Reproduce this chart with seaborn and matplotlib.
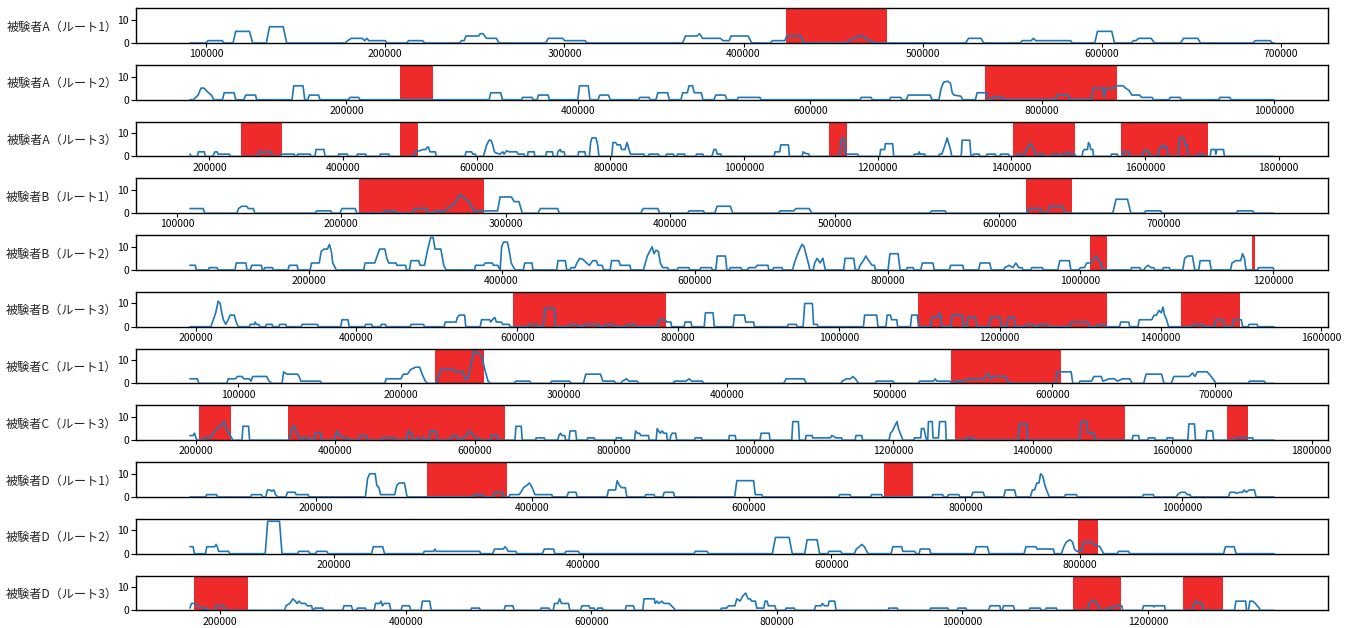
import matplotlib
matplotlib.use("Agg")
import matplotlib.pyplot as plt
import pandas as pd
import seaborn as sns

LABELS = ["被験者A（ルート1）", "被験者A（ルート2）", "被験者A（ルート3）",
          "被験者B（ルート1）", "被験者B（ルート2）", "被験者B（ルート3）",
          "被験者C（ルート1）", "被験者C（ルート3）",
          "被験者D（ルート1）", "被験者D（ルート2）", "被験者D（ルート3）"]

# (time, count) vertices for each recording
A1 = [(91000,0),(100000,0),(101000,1),(109000,1),(110000,0),
      (115000,0),(116500,5),(124200,5),(126000,0),
      (133600,0),(135400,7),(143000,7),(145000,0),
      (177500,0),(179000,1),(181000,2),(187000,2),(188500,1),(189700,2),(190800,1),(200000,1),(201000,0),
      (212000,0),(213000,1),(220800,1),(222000,0),
      (241500,0),(242500,1),(244000,1),(245000,3),(252000,3),(253000,4),(254500,4),(256500,2),(262000,2),(263500,0),
      (289500,0),(291000,2),(299000,2),(300000,1),(311500,1),(312500,0),
      (366000,0),(367500,3),(374000,3),(375500,4),(377000,2),(387000,2),(388500,1),(392000,1),(393000,3),(402500,3),(404500,0),
      (415000,0),(416000,1),(423000,1),(424000,3),(432000,3),(433500,0),
      (457500,0),(458500,1),(462000,2),(464000,3),(466500,3),(468000,2),(470000,1),(471500,1),(472500,0),
      (524000,0),(525500,2),(532500,2),(534000,0),
      (554500,0),(555500,1),(560500,1),(561800,2),(563000,1),(582500,1),(583500,0),
      (596000,0),(597500,5),(605500,5),(607000,0),
      (616500,0),(617500,1),(619000,1),(620500,2),(627500,2),(629300,0),
      (644000,0),(645500,2),(653500,2),(655000,0),
      (684500,0),(685500,1),(694000,1),(695000,0),(696000,0)]

A2 = [(65000,0),(68000,0),(70000,1),(72000,2),(74500,5),(77000,5),(79000,4),(81000,3),(83500,2),(85500,0),
      (93000,0),(94500,3),(103000,3),(104500,0),
      (111500,0),(113000,2),(121500,2),(122500,0),
      (153000,0),(154500,6),(162500,6),(164000,0),
      (166500,0),(168000,2),(176000,2),(177000,0),
      (201500,0),(203000,1),(210500,1),(211500,0),
      (323000,0),(324500,3),(333000,3),(334500,0),
      (351000,0),(352000,1),(360000,1),(361000,0),
      (364500,0),(365500,2),(374000,2),(375000,0),
      (399500,0),(401000,6),(408500,6),(410000,0),
      (417000,0),(418500,2),(426000,2),(427500,0),
      (452000,0),(453000,1),(461000,1),(462000,0),
      (467000,0),(468500,3),(477000,3),(478500,0),
      (488500,0),(490000,3),(494000,3),(495500,6),(498500,6),(500000,3),(506000,3),(507500,0),
      (517000,0),(518500,2),(526500,2),(528000,0),
      (537000,0),(538000,1),(556500,1),(557500,0),
      (643000,0),(644000,1),(652500,1),(653500,0),
      (668500,0),(669500,1),(678000,1),(679000,0),
      (683000,0),(684500,2),(703500,2),(705000,0),
      (711000,0),(713000,5),(715000,7.5),(718500,8),(721000,7),(722500,3),(724000,2),(730000,1.5),(731500,0),
      (742500,0),(744000,3),(752000,3),(753500,0),
      (756500,0),(757500,1),(766000,1),(767000,0),
      (811500,0),(813000,2),(822500,2),(824000,0),
      (842500,0),(844000,5),(852500,5),(853500,1),(855000,5),(862000,5),(863500,6),(870000,6),(872000,5),
      (875000,4),(877500,2),(884000,2),(886000,1),(895000,1),(896000,0),
      (909500,0),(910500,1),(919000,1),(920000,0),
      (952500,0),(953500,1),(962000,1),(963000,0),(1000000,0)]

A3 = [(171000,1),(173000,0),(182000,0),(183500,2),(192500,2),(194000,0),
      (205000,0),(206500,1),(208500,2),(211500,2),(213000,1),(230000,1),(231500,0),
      (272000,0),(273500,2),(280000,2),(281500,1.5),(284000,2),(292500,2),(294000,0),
      (306500,0),(307500,1),(327000,1),(328000,0),
      (331000,0),(332000,1),(351000,1),(352000,0),
      (358000,0),(359500,3),(371500,3),(373000,0),
      (392500,0),(393500,1),(406500,1),(407500,0),
      (420500,0),(421500,1),(434000,1),(435000,0),
      (455000,0),(456000,1),(468500,1),(469500,0),
      (506000,0),(508000,2),(515000,2.5),(520000,3),(524000,3),(526000,4),(528000,4),(530000,2),(538000,2),(539500,0),
      (582500,0),(584000,2),(592500,2),(594000,1),(598000,1),(599000,0),
      (610000,0),(612000,2),(615000,5),(618500,7),(621500,7),(624000,5),(626500,2),(629000,1.5),(635000,1),
      (639000,2),(641000,1),(645000,2.5),(648000,2),(660000,2),(662000,1),(671000,1),(672000,0),
      (676000,0),(677000,2),(686000,2),(687000,0),
      (703500,0),(704500,2),(713500,2),(714500,0),
      (720500,0),(721500,2),(725000,3),(726500,2),(731000,2),(732000,0),
      (751500,0),(752500,2),(762000,2),(763000,0),
      (768500,0),(770500,6),(772500,8),(778500,8),(781000,5),(783000,0),
      (802000,0),(804000,6),(808000,6),(810000,5),(815000,5),(817000,3),(822000,3),(825000,6),(828000,3),(830000,1),(850000,1),(852000,0),
      (857000,0),(858000,1),(872000,1),(873000,0),
      (883000,0),(884000,1),(894500,1),(895500,0),
      (899500,0),(900500,1),(911000,1),(912000,0),
      (928000,0),(929000,1),(938500,1),(939500,0),
      (951500,0),(953000,1),(955000,3),(958000,3),(960000,1),(965500,1),(966500,0),
      (1045000,0),(1046500,2),(1053500,2),(1055000,5),(1066500,5),(1068000,0),
      (1087000,0),(1088500,2),(1090500,1.5),(1097000,1),(1098500,0),
      (1143000,0),(1145000,6),(1147000,8),(1149500,8),(1151500,1),(1170000,1),(1172000,0),
      (1203000,0),(1204500,3),(1210500,3),(1211500,5.5),(1222500,5.5),(1224000,0),
      (1254000,0),(1255000,1),(1261000,1),(1262000,2),(1263500,1),(1270500,1),(1271500,0),
      (1291000,0),(1292500,1),(1296000,1),(1298500,3),(1301000,5),(1304000,8),(1306000,6),(1309000,3),(1311000,0),
      (1325000,0),(1326500,7),(1338000,7),(1339500,0),
      (1342000,0),(1343000,1),(1352000,1),(1353000,0),
      (1362500,0),(1363500,1),(1376000,1),(1377000,0),
      (1383000,0),(1384000,1),(1396000,1),(1397000,0),
      (1408000,0),(1409000,1),(1420000,1),(1423000,3),(1427500,5.5),(1430000,5),(1434000,3),(1436000,1),(1448000,1),(1449000,0),
      (1459500,0),(1460500,1),(1470500,1),(1471500,0),
      (1475000,0),(1476000,1),(1483000,1),(1485000,2),(1487000,1),(1495000,1),(1496000,0),
      (1506000,0),(1507000,2),(1509000,3),(1514000,3),(1515500,6),(1517500,5),(1519000,3),(1522000,3),(1523000,0),
      (1549000,0),(1550000,1),(1558500,1),(1559500,0),
      (1565500,0),(1567000,2),(1576000,2),(1577000,0),
      (1596000,0),(1598000,2),(1601000,3),(1603000,2),(1606500,2),(1608000,0),
      (1619000,0),(1621000,3),(1625000,4),(1627000,5),(1629000,4),(1633000,4),(1634500,0),
      (1649500,0),(1651500,8),(1658000,8),(1660000,5),(1663000,5),(1664500,0),
      (1677500,0),(1678500,1),(1687500,1),(1688500,0),
      (1697500,0),(1699000,3),(1705000,3),(1706000,1),(1707500,3),(1717500,3),(1719000,0),(1793000,0)]

B1 = [(108000,2),(116000,2),(117000,0),
      (136500,0),(137500,2),(139500,3),(142500,3),(143500,2),(146500,2),(147500,0),
      (184000,0),(185000,1),(193500,1),(194500,0),
      (199000,0),(200500,2),(208500,2),(209500,0),
      (225000,0),(226000,1),(233000,1),(234000,0),
      (243000,0),(244500,2),(252000,2),(253000,0),
      (255500,0),(256500,1),(263000,1),(264500,2),(266500,3),(268500,4),(270500,6),(272000,8),(274000,7),(276000,6),
      (277500,5),(279000,3),(280500,1),(295000,1),(296500,7),(303500,7),(305000,5),(308000,5),(310000,0),
      (319500,0),(321000,2),(331500,2),(332500,0),
      (382000,0),(383500,2),(392500,2),(393500,0),
      (410500,0),(411500,1),(420000,1),(421000,0),
      (427000,0),(428500,3),(436500,3),(438000,0),
      (465500,0),(467000,1),(475000,1),(476500,2),(484500,2),(486000,0),
      (557500,0),(559000,1),(567000,1),(568000,0),
      (616500,0),(618000,2),(625000,2),(626500,0),
      (629000,0),(630500,3),(638500,3),(640000,0),
      (669000,0),(671000,6),(678000,6),(680000,0),
      (688000,0),(689000,1),(698000,1),(699000,0),
      (744000,0),(745000,1),(754000,1),(755000,0),(767000,0)]

B2 = [(77000,2),(82500,2),(83500,0),
      (96000,0),(97000,1),(105000,1),(106000,0),
      (123500,0),(125000,3),(135000,3),(136000,0),
      (139500,0),(141000,2),(151000,2),(152000,0),
      (153500,0),(154500,1),(162500,1),(163500,0),
      (178500,0),(180000,2),(188000,2),(189000,0),
      (201500,0),(203000,3),(211000,3),(213000,8),(216000,9),(219500,9),(221500,11),(223500,8),(225000,3),(227500,1),(228500,0),
      (257000,0),(258500,3),(268500,3),(271000,6),(273500,9),(279000,9),(281000,5),(283000,3),(290500,3),(291500,2),(300500,2),(301500,0),
      (304500,0),(306000,4),(314000,4),(315500,2),(320000,2),(323500,9),(326500,14),(329000,14),(331000,9),(337000,9),(340000,2),(342500,0),
      (372000,0),(373000,2),(381500,2),(383000,3),(390500,3),(391500,2),(396000,2),(398500,0),(400000,10),(402000,12),
      (406000,12),(408000,8),(410000,3),(412500,1),(414500,0),
      (422500,0),(424000,3),(431500,3),(432500,0),
      (457000,0),(458500,4),(466000,4),(467500,0),
      (470500,0),(472000,1),(476000,1),(478000,3),(481000,5),(484500,4.5),(488000,3),(491000,2),(494500,4),(498000,4),(500000,2),(504000,2),(506000,0),
      (512500,0),(514000,4),(521500,4),(523000,2),(533000,2),(534000,0),
      (547000,0),(549000,3),(551000,6),(553500,8),(556000,10),(558000,7),(560000,8.5),(562500,8),(564500,3),(567000,1),(572000,1),(573000,0),
      (582000,0),(583000,1),(594000,1),(595000,0),
      (605500,0),(606500,1),(617500,1),(618500,0),
      (622000,0),(623500,6),(632000,6),(633500,0),
      (636000,0),(637000,1),(648000,1),(649000,0),
      (655000,0),(656000,1),(663000,1),(665000,2),(676000,2),(677000,0),
      (681000,0),(682000,1),(690500,1),(691500,0),
      (701500,0),(703500,3),(706000,6),(709000,9),(711500,11),(713500,10),(716000,6),(718500,2),(719500,0),
      (723000,0),(724500,3),(727000,5),(730000,3),(733000,5),(735500,0),
      (754500,0),(756000,5),(765000,5),(766500,0),
      (770000,0),(771500,2),(775000,4),(777500,6),(780500,4),(784000,2),(786500,2),(787500,0),
      (800500,0),(802500,7),(811000,7),(813000,0),
      (819500,0),(820500,1),(826500,1),(827500,0),
      (834500,0),(836000,3),(847000,3),(848500,0),
      (864000,0),(865500,2),(878000,2),(879000,0),
      (894500,0),(896000,3),(906000,3),(907500,0),
      (920500,0),(921500,1),(926000,2),(930000,1),(933000,3),(936000,1),(939500,1),(940500,0),
      (948500,0),(949500,1),(960500,1),(961500,0),
      (976500,0),(978500,4),(988500,4),(990000,0),
      (998000,0),(1000000,1),(1004000,1),(1006500,3),(1011000,3),(1013000,4.5),(1016000,6),(1019000,4),(1021000,3),(1023000,0),
      (1052000,0),(1053000,1),(1061500,1),(1062500,0),
      (1066000,0),(1067000,1),(1070000,2),(1073000,1),(1076000,1),(1077000,0),
      (1085000,0),(1086000,1),(1092000,1),(1093000,0),
      (1106000,0),(1108000,5),(1111000,6),(1116000,6),(1118500,0),
      (1122500,0),(1124000,4),(1134000,4),(1135500,0),
      (1155500,0),(1157000,3),(1161000,4),(1166000,4),(1168000,7),(1170000,5),(1171500,0),
      (1183500,0),(1184500,1),(1199500,1),(1200500,0)]

B3 = [(193000,0),(219000,0),(222000,3),(225000,6),(228000,11),(230500,10),(232500,6),(234500,3),(237500,1),(240500,3),(243000,5),(248000,5),(250500,2),(253000,0),
      (267000,0),(268000,1),(273000,1),(274000,2),(275500,1),(278500,1),(279500,0),
      (287000,0),(288000,1),(295000,1),(296000,0),
      (303500,0),(304500,1),(312000,1),(313000,0),
      (331500,0),(332500,1),(351500,1),(352500,0),
      (380500,0),(382000,3),(389500,3),(391000,0),
      (410500,0),(411500,1),(419000,1),(420000,0),
      (430000,0),(431000,1),(436000,1),(437000,0),
      (467000,0),(468000,1),(483500,1),(484500,0),
      (509000,0),(510500,2),(524000,2),(525500,4),(528000,5),(534500,5),(536000,0),
      (554000,0),(555500,3),(565500,3),(567000,2),(569000,3),(572000,4),(574000,2),(580000,2),(582000,1),(590000,1),(591000,0),
      (613000,0),(614000,1),(624500,1),(625500,0),
      (632500,0),(634500,8),(646000,8),(647500,0),
      (664000,0),(665000,1),(675000,1),(676000,0),
      (682000,0),(683000,1),(701000,1),(702000,0),
      (708500,0),(709500,1),(720000,1),(721000,0),
      (735000,0),(736000,1),(746000,1),(747000,0),
      (774500,0),(776000,3),(784000,3),(786000,2),(791000,2),(792000,0),
      (807500,0),(808500,2),(816000,2),(817000,0),
      (832500,0),(834000,6),(843500,6),(845000,0),
      (868500,0),(870000,5),(882500,5),(884000,2),(894000,2),(895000,0),
      (936000,0),(937000,1),(947000,1),(948000,0),
      (955500,0),(957500,10),(967000,10),(968500,1),(973000,1),(974000,0),
      (1030500,0),(1032000,5),(1047000,5),(1048500,0),
      (1058500,0),(1060000,5),(1064000,5),(1065500,3),(1072000,3),(1073000,0),
      (1089000,0),(1090500,5),(1097500,5),(1099000,0),
      (1114000,0),(1115500,4),(1123500,4),(1125500,6),(1127000,4),(1128000,0),
      (1139500,0),(1141000,5),(1153000,5),(1154500,0),
      (1159000,0),(1160500,4),(1170000,4),(1171500,0),
      (1187000,0),(1188500,4),(1200500,4),(1202000,0),
      (1209000,0),(1210500,4),(1217500,4),(1219000,0),
      (1231500,0),(1232500,1),(1242500,1),(1243500,0),
      (1248500,0),(1249500,1),(1259500,1),(1260500,0),
      (1287000,0),(1288500,2),(1309500,2),(1311000,0),
      (1321000,0),(1322000,1),(1329500,1),(1330500,0),
      (1349000,0),(1350500,2),(1360500,2),(1361500,0),
      (1372000,0),(1373500,3),(1389000,3),(1392000,5),(1395000,5),(1398000,7),(1401000,6),(1403000,8.5),(1405000,5),(1407500,3),(1410000,0),
      (1439000,0),(1440000,1),(1453000,1),(1454000,0),
      (1467000,0),(1468500,3),(1478000,3),(1479500,0),
      (1489000,0),(1490500,3),(1500500,3),(1502000,0),
      (1509000,0),(1510000,1),(1520000,1),(1521000,0),(1541000,0)]

C1 = [(70500,2),(75000,2),(76000,0),
      (93000,0),(94000,2),(98500,2),(99500,3),(102500,3),(103500,2),(107000,2),(108000,1),(109000,3),(117500,3),(119000,1),(121000,0),
      (127000,0),(128000,5),(130000,4),(136500,4),(137500,3),(138500,1),(150500,1),(151500,0),
      (190000,0),(191000,2),(200000,2),(201500,4),(204000,4),(206000,6),(209000,7),(211500,7),(213000,4),(215000,1),(216500,0),
      (221000,0),(222500,2),(224500,6),(232000,6),(233500,5),(238000,5),(239500,2),(241000,2),(243000,8),(245000,14),
      (247500,13),(249500,12),(251500,6),(253500,1),(255000,0),
      (269500,0),(270500,1),(279000,1),(280000,0),
      (291500,0),(292500,1),(303500,1),(304500,0),
      (312000,0),(313500,4),(322500,4),(324000,1),(331000,1),(332000,0),
      (335000,0),(336000,1),(338500,2),(340000,1),(345000,1),(346000,0),
      (367000,0),(368000,1),(375000,1),(377000,2),(378500,1),(385000,1),(386000,0),
      (435000,0),(436500,2),(447500,2),(449000,0),
      (470000,0),(471000,1),(473500,2),(476000,2),(477500,3),(479000,2),(480000,1),(481000,0),
      (491000,0),(492000,1),(502000,1),(503000,0),
      (517500,0),(518500,1),(527000,1),(528000,2),(529000,1),(537000,1),(538000,0),
      (539000,0),(540000,1),(546000,1),(548000,2),(558000,2),(559500,4),(561000,4),(562000,2),(564000,3),(571000,3),(572500,1),(575000,0),
      (602000,0),(603000,5),(611500,5),(612500,0),
      (616000,0),(617000,1),(624000,1),(625500,3),(630000,3),(631000,1),(635000,2),(638000,2),(640000,1),(643000,2),(647500,2),(649000,0),
      (656000,0),(657500,4),(667000,4),(668500,0),
      (673000,0),(674500,3),(684000,3),(686000,4.5),(687500,3),(689000,5),(695000,5),(697500,3),(700500,0),
      (720000,0),(721000,1),(730000,1),(731000,0),(736000,0)]

C3 = [(191500,2),(196000,2),(198000,3),(200000,1),(202000,0),
      (211500,0),(212500,1),(221000,1),(225000,3),(230000,5),(235000,6),(240500,8),(243500,5),(247500,3),(253000,0),
      (266000,0),(267500,6),(275500,6),(277000,0),
      (334000,0),(336500,4),(339000,6),(342000,6),(344000,3),(347000,2),(350000,0),
      (352000,0),(353000,1),(363000,1),(364000,0),
      (369500,0),(371000,3),(379000,3),(380500,0),
      (398500,0),(400000,2),(402500,4),(404500,2),(408000,2),(410000,1),(418000,1),(419000,0),
      (434000,0),(435500,2),(444000,2),(445500,0),
      (467000,0),(468000,1),(486000,1),(487000,0),
      (502000,0),(503500,3),(505500,4),(507500,3),(509500,3),(511000,0),
      (517000,0),(518000,1),(527000,1),(528000,0),
      (534500,0),(536000,4),(544000,4),(545500,0),
      (564000,0),(565000,1),(570000,2),(573000,2),(574000,1),(577000,1),(578000,0),
      (582000,0),(583000,1),(588000,2),(592000,4),(595000,3),(598000,2),(601000,1),(605000,1),(606000,0),
      (622000,0),(623000,2),(632000,2),(633000,0),
      (657500,0),(659000,6),(666500,6),(668000,0),
      (687000,0),(688000,1),(699500,1),(700500,0),
      (719000,0),(720500,2),(723000,3),(725000,2),(729000,2),(730000,0),
      (735000,0),(736500,4),(744500,4),(746000,0),
      (761000,0),(762000,1),(771000,1),(772000,0),
      (802000,0),(803000,1),(810000,1),(811000,0),
      (829000,0),(830500,4),(833000,3),(836000,3),(838000,2),(849000,2),(850000,0),
      (860000,0),(861500,5),(863500,4),(866000,3),(868500,4),(871000,3),(875000,3),(876000,0),
      (880000,0),(881000,2),(883000,3),(888000,3),(889500,0),
      (915000,0),(916000,1),(925000,1),(926000,0),
      (964000,0),(965000,2),(973500,2),(974500,0),
      (1009000,0),(1010500,3),(1022000,3),(1023500,0),
      (1054500,0),(1056000,8),(1064000,8),(1065500,0),
      (1074000,0),(1075000,2),(1083500,2),(1084500,1),(1110000,1),(1112000,2),(1118000,1),(1126000,1),(1127000,0),
      (1145500,0),(1146500,2),(1155000,2),(1156000,0),
      (1194000,0),(1196000,3),(1199000,4),(1202000,6),(1205500,8),(1207500,5),(1210000,3),(1214000,0),
      (1229500,0),(1230500,1),(1239500,1),(1240500,5),(1244000,5),(1247000,1),(1248500,0),
      (1249500,0),(1250500,8),(1256000,8),(1257000,1),(1265000,1),(1266500,8),(1275000,8),(1276000,0),
      (1304000,0),(1305000,1),(1315000,1),(1316000,0),
      (1379000,0),(1381000,7),(1391500,7),(1393000,0),
      (1467500,0),(1469000,8),(1477500,8),(1479000,3),(1488000,3),(1489000,0),
      (1542500,0),(1544000,2),(1552000,2),(1553000,0),
      (1565000,0),(1566000,1),(1575000,1),(1576000,0),
      (1592000,0),(1593000,1),(1601000,1),(1602000,0),
      (1622500,0),(1624000,7),(1632000,7),(1633500,0),
      (1648500,0),(1650000,4),(1658000,4),(1659500,0),
      (1690000,0),(1691000,1),(1715500,1),(1716500,0),(1746000,0)]

D1 = [(84000,0),(98500,0),(99500,1),(108500,1),(109500,0),
      (140000,0),(141000,1),(150000,1),(151000,0),
      (154000,0),(155500,3),(158000,3),(159500,2.5),(161500,3),(163000,1),(165000,0),
      (172500,0),(174000,2),(181000,2),(182000,1),(193000,1),(194000,0),
      (246000,0),(248000,8),(250000,10),(255000,10),(256500,5),(258500,4),(260000,1),(273000,1),(275000,5),(277000,6),(282000,6),(284500,0),
      (345500,0),(346500,1),(354000,1),(355000,0),
      (364000,0),(365500,2),(372500,2),(373500,0),
      (378500,0),(379500,1),(388000,1),(389500,2),(392000,4),(395000,5),(397500,6),(400000,4),(402500,1),(418000,1),(419000,0),
      (432000,0),(433500,2),(440500,2),(441500,0),
      (469000,0),(470500,3),(477000,3),(478500,7),(480500,5),(482500,4),(486000,4),(487500,0),
      (504000,0),(505000,1),(512500,1),(513500,0),
      (520500,0),(522000,2),(530500,2),(531500,0),
      (587000,0),(589000,7),(604500,7),(606000,1),(612000,1),(613000,0),
      (683000,0),(684000,1),(693500,1),(694500,0),
      (712500,0),(713500,1),(722500,1),(723500,0),
      (769000,0),(770000,1),(779000,1),(780000,0),
      (783500,0),(784500,1),(794000,1),(795000,0),
      (805500,0),(807000,2),(816500,2),(818000,0),
      (835500,0),(837000,3),(845500,3),(847000,0),
      (860000,0),(862000,3),(864000,3),(866000,6),(868000,6),(869500,10),(871500,9),(873500,5),(875000,3),(877500,0),
      (891500,0),(892500,1),(902500,1),(903500,0),
      (963500,0),(964500,1),(973500,1),(974500,0),
      (995000,0),(996000,1),(999000,2),(1003000,2),(1005000,1),(1007500,1),(1008500,0),
      (1043000,0),(1044500,2),(1049000,2),(1050500,1.5),(1053000,2),(1056000,2),(1057500,3),(1059500,2),(1062000,3),(1067000,3),(1068500,0),(1085000,0)]

D2 = [(84000,3),(86500,3),(87500,0),
      (96500,0),(97500,3),(104000,3),(105000,4),(106000,3),(107000,1),(115000,1),(116000,0),
      (144500,0),(146500,14),(156000,14),(158000,0),
      (170500,0),(171500,1),(179500,1),(180500,0),
      (185000,0),(186000,1),(194000,1),(195000,0),
      (230000,0),(231500,3),(239000,3),(240500,0),
      (271500,0),(272500,1),(280000,1),(281000,2),(282000,1),(317000,1),(318000,0),
      (327500,0),(329000,2),(336000,2),(337500,3),(339000,2),(340000,1),(346000,1),(347000,0),
      (367500,0),(369000,2),(376500,2),(377500,0),
      (385500,0),(386500,1),(396500,1),(397500,0),
      (489500,0),(490500,1),(500000,1),(501000,0),
      (552500,0),(555000,7),(566000,7),(568500,0),
      (578500,0),(580500,6),(588500,6),(590500,0),
      (597000,0),(598000,1),(607500,1),(608500,0),
      (618500,0),(620000,2),(622500,3),(624500,4),(626500,3),(628500,1),(629500,0),
      (648000,0),(649500,3),(656500,3),(657500,1),(667000,1),(668000,0),
      (670500,0),(671500,2),(679000,2),(680000,0),
      (715000,0),(716500,3),(725500,3),(727000,0),
      (755000,0),(756500,3),(764500,3),(765500,2),(778500,2),(779500,0),
      (785000,0),(787000,3),(789000,5),(792000,6),(794000,5),(795500,2),(797500,1),(801000,1),(803000,5),(809000,5),(811000,4),(816000,3),(819000,0),
      (830000,0),(831000,1),(839000,1),(840000,0),
      (915500,0),(917000,3),(924000,3),(925500,0),(956000,0)]

D3 = [(167500,1),(169000,3),(173000,3),(176000,2),(180000,1),(186000,1),(187000,0),
      (194500,0),(195500,2),(204000,2),(205000,0),
      (269500,0),(271000,2),(275000,3),(278500,5),(281000,4),(283000,3),(285000,4),(287500,3),(292000,3),(294000,2),(298500,2),(300000,0),
      (301000,0),(302000,1),(310500,1),(311500,0),
      (332000,0),(333500,2),(341500,2),(343000,0),
      (347000,0),(348000,1),(356500,1),(357500,0),
      (366000,0),(367500,3),(372000,3),(373500,4),(375000,2),(377000,3),(382500,3),(384000,0),
      (395000,0),(396500,2),(404000,2),(405500,0),
      (416500,0),(418000,4),(426000,4),(427500,0),
      (470000,0),(471000,1),(479500,1),(480500,0),
      (506000,0),(507500,2),(515500,2),(517000,0),
      (545000,0),(546000,1),(554500,1),(555500,0),
      (559000,0),(560500,3),(564000,3),(566000,5),(568000,3),(572000,3),(575500,3),(577000,0),
      (588500,0),(590000,2),(597500,2),(598500,1),(603000,1),(604000,0),
      (606000,0),(607000,1),(612000,1),(613000,0),
      (636500,0),(638000,2),(645500,2),(647000,0),
      (655500,0),(657000,5),(668000,5),(669000,3),(671000,4),(673000,3),(676000,4),(678500,3),(684000,3),(689000,1),(691000,0),
      (739000,0),(740500,1),(746000,1),(748000,2),(755000,2),(757000,5),(760500,4),(763000,6),(766500,7.5),(769000,5),(771500,5),
      (773000,4),(777000,4),(778500,1),(786000,1),(787500,4),(789500,4),(791000,2),(798000,2),(799500,0),
      (809000,0),(810000,1),(819000,1),(820000,0),
      (840500,0),(842000,2),(848000,2),(849000,3),(851500,2),(855500,2),(856500,4),(862500,4),(864000,0),
      (920000,0),(921000,1),(930000,1),(931000,0),
      (965000,0),(966000,1),(984500,1),(985500,0),
      (994500,0),(995500,1),(1004000,1),(1005000,0),
      (1028500,0),(1030000,2),(1040500,2),(1041500,0),
      (1043000,0),(1044500,2),(1055000,2),(1056500,0),
      (1072000,0),(1073000,1),(1084000,1),(1085000,0),
      (1089500,0),(1090500,1),(1101500,1),(1102500,0),
      (1135000,0),(1137000,3),(1140000,4),(1143000,4),(1145000,3),(1148000,1),(1149000,0),
      (1155000,0),(1156000,1),(1162000,1),(1164000,2),(1172000,2),(1173000,0),
      (1194000,0),(1195500,2),(1205500,2),(1206500,1.5),(1207500,2),(1218000,2),(1219000,0),
      (1247500,0),(1249000,2),(1252000,4),(1255000,3),(1258500,3),(1260000,0),
      (1293500,0),(1295000,4),(1305500,4),(1306500,0),
      (1308500,0),(1310000,4),(1313000,4),(1316000,3),(1320000,1),(1321500,0),(1336000,0)]

# highlighted intervals (start, end) per recording
SPAN_A1 = [(423500, 480000)]
SPAN_A2 = [(246000, 274500), (751000, 864500)]
SPAN_A3 = [(247000, 308000), (485000, 512000), (1127000, 1154000), (1402000, 1495500), (1563500, 1694000)]
SPAN_B1 = [(211000, 287000), (616000, 644000)]
SPAN_B2 = [(1009500, 1027000), (1178000, 1180500)]
SPAN_B3 = [(595000, 784500), (1098700, 1333200), (1425000, 1499000)]
SPAN_C1 = [(221000, 251000), (537500, 605500)]
SPAN_C3 = [(205000, 250500), (332000, 643000), (1288000, 1532000), (1679000, 1709500)]
SPAN_D1 = [(303000, 377000), (724500, 751500)]
SPAN_D2 = [(798000, 814500)]
SPAN_D3 = [(172000, 230000), (1119000, 1171500), (1238500, 1281000)]

SERIES = [A1, A2, A3, B1, B2, B3, C1, C3, D1, D2, D3]
SPANS = [SPAN_A1, SPAN_A2, SPAN_A3, SPAN_B1, SPAN_B2, SPAN_B3,
         SPAN_C1, SPAN_C3, SPAN_D1, SPAN_D2, SPAN_D3]

LINE_COLOR = "#1f77b4"
SPAN_COLOR = "#ee2a2a"

sns.set_style("ticks")
plt.rcParams["font.family"] = ["Noto Sans CJK JP", "DejaVu Sans"]
plt.rcParams["axes.edgecolor"] = "black"
plt.rcParams["axes.linewidth"] = 1.0
plt.rcParams["xtick.color"] = "black"
plt.rcParams["ytick.color"] = "black"
plt.rcParams["xtick.major.size"] = 3.0
plt.rcParams["ytick.major.size"] = 3.5

fig, axes = plt.subplots(len(SERIES), 1, figsize=(13.58, 6.28), dpi=100)
fig.subplots_adjust(left=0.1, right=0.978, top=0.987, bottom=0.028, hspace=0.63)

for ax, label, series, spans in zip(axes, LABELS, SERIES, SPANS):
    df = pd.DataFrame(series, columns=["t", "v"])
    for start, end in spans:
        ax.axvspan(start, end, color=SPAN_COLOR, lw=0, zorder=1)
    sns.lineplot(data=df, x="t", y="v", ax=ax, color=LINE_COLOR, linewidth=1.2,
                 sort=False, estimator=None, zorder=3)
    ax.set_ylim(0, 15)
    ax.set_yticks([0, 10])
    ax.ticklabel_format(axis="x", style="plain", useOffset=False)
    ax.set_xlabel("")
    ax.set_ylabel(label, rotation=0, ha="right", va="center", fontsize=8.7)
    ax.yaxis.set_label_coords(-0.0155, 0.46)
    ax.tick_params(axis="both", labelsize=7.5, pad=1.5)

fig.savefig("out.png", dpi=100)
